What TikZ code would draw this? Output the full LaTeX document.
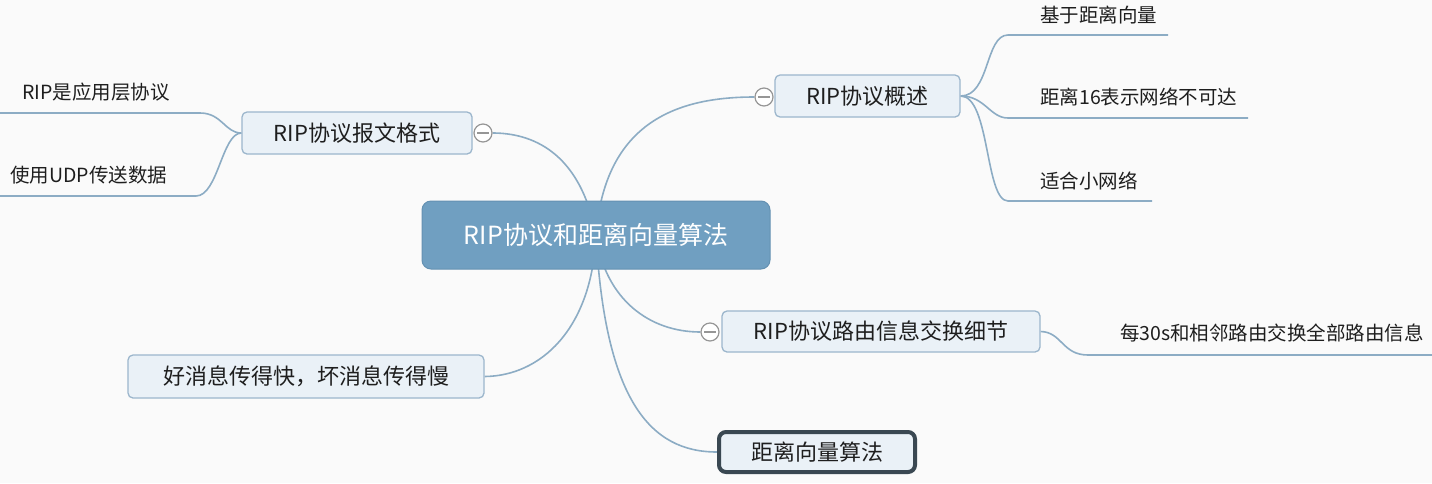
\documentclass[tikz,border=0pt]{standalone}
\usepackage{fontspec}
\setmainfont{Noto Sans CJK SC}
\pgfdeclarelayer{bg}
\pgfdeclarelayer{links}
\pgfsetlayers{bg,links,main}
\definecolor{paper}{RGB}{250,250,250}
\definecolor{linkc}{RGB}{140,172,196}
\definecolor{topicfill}{RGB}{234,241,247}
\definecolor{topicline}{RGB}{156,182,204}
\definecolor{rootfill}{RGB}{112,159,193}
\definecolor{rootline}{RGB}{100,145,178}
\definecolor{ink}{RGB}{30,30,30}
\definecolor{darkline}{RGB}{58,72,82}
\definecolor{knob}{RGB}{150,150,150}
\tikzset{
  rootbox/.style={draw=rootline, fill=rootfill, rounded corners=9pt, line width=1pt,
    minimum width=348pt, minimum height=68pt, inner sep=0pt,
    text=white, font=\fontsize{25}{30}\selectfont},
  topic/.style={draw=topicline, fill=topicfill, rounded corners=5pt, line width=1.3pt,
    inner sep=0pt, text=ink, font=\fontsize{22}{26}\selectfont},
  strongtopic/.style={topic, draw=darkline, line width=4pt, rounded corners=7pt},
  leaf/.style={inner sep=0pt, anchor=west, text=ink, font=\fontsize{19.5}{23}\selectfont},
  conn/.style={draw=linkc, line width=1.6pt},
  collapse/.style={circle, draw=knob, fill=white, line width=1.2pt, minimum size=18pt, inner sep=0pt,
    path picture={\draw[knob, line width=1.2pt]
      ([xshift=-6pt]path picture bounding box.center) -- ([xshift=6pt]path picture bounding box.center);}},
}
\begin{document}
\begin{tikzpicture}[x=1pt, y=-1pt]
\begin{pgfonlayer}{bg}
  \fill[paper] (0,0) rectangle (1432,483);
\end{pgfonlayer}
\useasboundingbox (0,0) rectangle (1432,483);

% central topic
\node[rootbox] (root) at (596,235) {RIP协议和距离向量算法};

% main branches
\node[topic, minimum width=185pt, minimum height=42pt] (ovw) at (867.5,96) {RIP协议概述};
\node[topic, minimum width=230pt, minimum height=42pt] (fmt) at (357,133) {RIP协议报文格式};
\node[topic, minimum width=318pt, minimum height=41pt] (xchg) at (881,331.5) {RIP协议路由信息交换细节};
\node[topic, minimum width=356pt, minimum height=43pt] (good) at (306,376.5) {好消息传得快，坏消息传得慢};
\node[strongtopic, minimum width=196pt, minimum height=40pt] (dv) at (817,452) {距离向量算法};

% collapse knobs
\node[collapse] (k1) at (764,97) {};
\node[collapse] (k2) at (483,133) {};
\node[collapse] (k3) at (710,332) {};

% leaves
\node[leaf] (a1) at (1040,15) {基于距离向量};
\node[leaf] (a2) at (1040,97) {距离16表示网络不可达};
\node[leaf] (a3) at (1040,181) {适合小网络};
\node[leaf] (b1) at (22,92) {RIP是应用层协议};
\node[leaf] (b2) at (10,175) {使用UDP传送数据};
\node[leaf] (c1) at (1120,333) {每30s和相邻路由交换全部路由信息};

% underline end points
\coordinate (a1s) at (1008,35);  \coordinate (a1e) at (1168,35);
\coordinate (a2s) at (1008,118); \coordinate (a2e) at (1248,118);
\coordinate (a3s) at (1008,201); \coordinate (a3e) at (1152,201);
\coordinate (b1s) at (200,113);  \coordinate (b1e) at (0,113);
\coordinate (b2s) at (196,196);  \coordinate (b2e) at (0,196);
\coordinate (c1s) at (1088,355); \coordinate (c1e) at (1432,355);

\begin{pgfonlayer}{links}
  % central topic to branches
  \draw[conn] (root.center) .. controls (605,120) and (680,97) .. (k1.west);
  \draw[conn] (root.center) .. controls (580,150) and (530,133) .. (k2.east);
  \draw[conn] (root.center) .. controls (605,300) and (650,332) .. (k3.west);
  \draw[conn] (root.center) .. controls (592,330) and (540,376) .. (good.east);
  \draw[conn] (root.center) .. controls (605,400) and (650,452) .. (dv.west);
  % overview leaves
  \draw[conn] (ovw.east) .. controls (990,96) and (985,35) .. (a1s) -- (a1e);
  \draw[conn] (ovw.east) .. controls (985,96) and (990,118) .. (a2s) -- (a2e);
  \draw[conn] (ovw.east) .. controls (990,96) and (985,201) .. (a3s) -- (a3e);
  % format leaves
  \draw[conn] (fmt.west) .. controls (225,133) and (222,113) .. (b1s) -- (b1e);
  \draw[conn] (fmt.west) .. controls (222,133) and (218,196) .. (b2s) -- (b2e);
  % exchange leaf
  \draw[conn] (xchg.east) .. controls (1062,332) and (1062,355) .. (c1s) -- (c1e);
\end{pgfonlayer}
\end{tikzpicture}
\end{document}
